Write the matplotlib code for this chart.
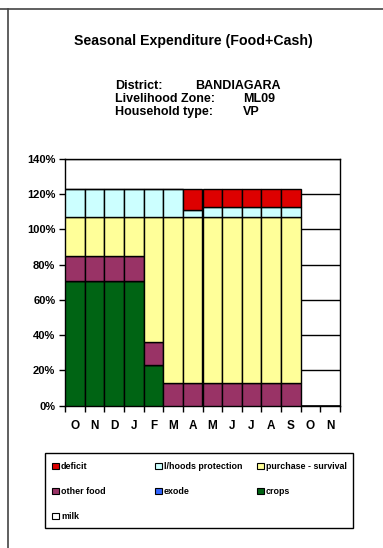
import matplotlib
matplotlib.use("Agg")
import matplotlib.pyplot as plt
from matplotlib.lines import Line2D
from matplotlib.patches import Patch, Rectangle
import numpy as np

plt.rcParams['font.family'] = ['Liberation Sans', 'DejaVu Sans']
plt.rcParams['font.weight'] = 'bold'

months = ['O', 'N', 'D', 'J', 'F', 'M', 'A', 'M', 'J', 'J', 'A', 'S', 'O', 'N']

# percentages of annual need, bottom to top of the stack
milk = [0, 0, 0, 0, 0, 0, 0, 0, 0, 0, 0, 0, 0, 0]
crops = [71, 71, 71, 71, 23, 0, 0, 0, 0, 0, 0, 0, 0, 0]
exode = [0, 0, 0, 0, 0, 0, 0, 0, 0, 0, 0, 0, 0, 0]
other_food = [14, 14, 14, 14, 13, 13, 13, 13, 13, 13, 13, 13, 0, 0]
purchase = [22, 22, 22, 22, 71, 94, 94, 94, 94, 94, 94, 94, 0, 0]
lhoods = [16, 16, 16, 16, 16, 16, 4, 6, 6, 6, 6, 6, 0, 0]
deficit = [0, 0, 0, 0, 0, 0, 12, 10, 10, 10, 10, 10, 0, 0]

series = [
    ('milk', milk, '#FFFFFF'),
    ('crops', crops, '#006414'),
    ('exode', exode, '#3366FF'),
    ('other food', other_food, '#993366'),
    ('purchase - survival', purchase, '#FFFF99'),
    ('l/hoods protection', lhoods, '#CCFFFF'),
    ('deficit', deficit, '#DD0000'),
]

fig = plt.figure(figsize=(3.83, 5.48), dpi=100)

# page frame lines
fig.add_artist(Line2D([0, 1], [1 - 9 / 548, 1 - 9 / 548], color='#444444', lw=1.2))
fig.add_artist(Line2D([7.5 / 383, 7.5 / 383], [0, 1 - 9 / 548], color='#444444', lw=1.2))

fig.text(0.505, 1 - 41 / 548, 'Seasonal Expenditure (Food+Cash)', ha='center', va='center',
         fontsize=10.2, fontweight='bold')
info = [('District:', 'BANDIAGARA', 195), ('Livelihood Zone:', 'ML09', 243),
        ('Household type:', 'VP', 243)]
for i, (k, v, vx) in enumerate(info):
    y = 1 - (86 + i * 12.8) / 548
    fig.text(115 / 383, y, k, ha='left', va='center', fontsize=9, fontweight='bold')
    fig.text(vx / 383, y, v, ha='left', va='center', fontsize=9, fontweight='bold')

ax = fig.add_axes([65 / 383, 1 - 405.7 / 548, 275 / 383, 246.7 / 548])
x = np.arange(len(months))
bottom = np.zeros(len(months))
handles = {}
for name, vals, color in series:
    vals = np.array(vals, dtype=float)
    ax.bar(x, vals, width=1.0, bottom=bottom, color=color, edgecolor='black',
           linewidth=1.0, zorder=3)
    bottom += vals
    handles[name] = Patch(facecolor=color, edgecolor='black', linewidth=0.8)

ax.set_xlim(-0.5, len(months) - 0.5)
ax.set_ylim(0, 140)
ax.set_yticks(np.arange(0, 141, 20))
ax.set_yticklabels(['{}%'.format(v) for v in range(0, 141, 20)])
ax.yaxis.grid(True, color='black', linewidth=1.0, zorder=0)
ax.set_axisbelow(True)
ax.set_xticks(x)
ax.set_xticklabels(months)
ax.set_xticks(np.arange(-0.5, len(months), 1), minor=True)
ax.tick_params(axis='x', which='major', length=0, pad=10, labelsize=8.5)
ax.tick_params(axis='x', which='minor', length=4, width=1, direction='out')
ax.tick_params(axis='y', length=4, width=1, labelsize=8, pad=3)
for s in ax.spines.values():
    s.set_linewidth(1.0)
    s.set_color('black')

# legend box with three evenly spaced columns
fig.add_artist(Rectangle((45 / 383, 1 - 528 / 548), 308 / 383, 75 / 548,
                         transform=fig.transFigure, facecolor='white',
                         edgecolor='black', linewidth=1.0))
columns = [['deficit', 'other food', 'milk'],
           ['l/hoods protection', 'exode'],
           ['purchase - survival', 'crops']]
col_x = [52, 155, 257]
for names, cx in zip(columns, col_x):
    fig.legend([handles[n] for n in names], names, loc='upper left',
               bbox_to_anchor=(cx / 383, 1 - 462 / 548), frameon=False,
               fontsize=6.4, handlelength=0.75, handleheight=0.75, handletextpad=0.25,
               labelspacing=1.8, borderpad=0, borderaxespad=0)

fig.savefig('out.png', dpi=100)
